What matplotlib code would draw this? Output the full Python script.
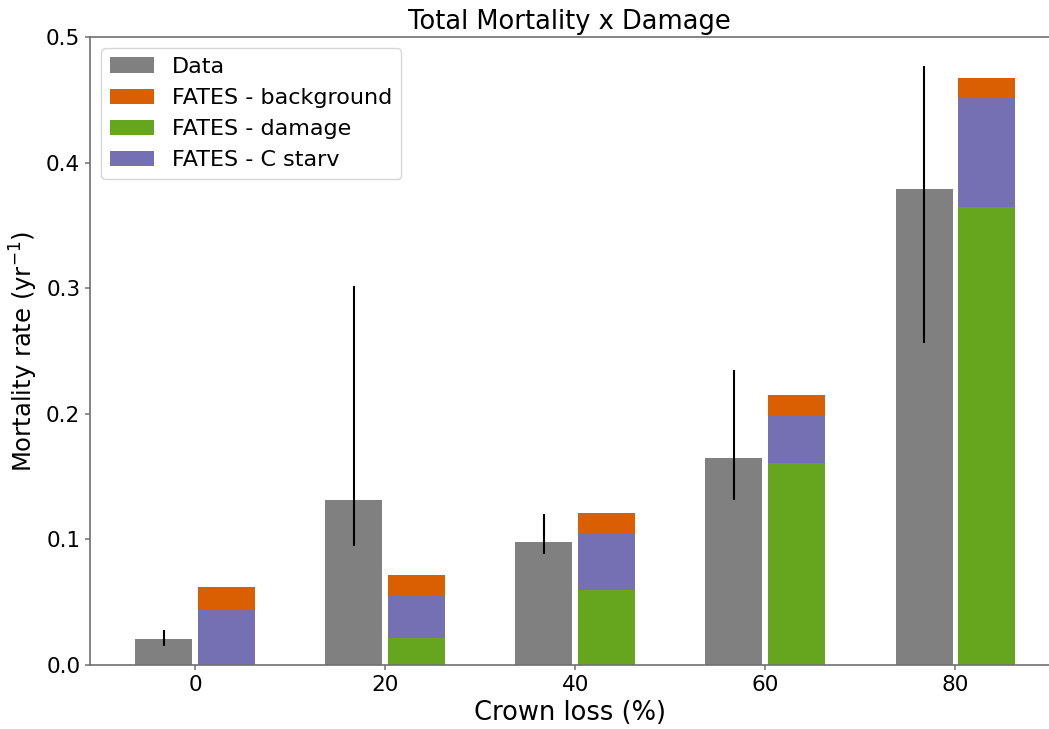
import numpy as np
import matplotlib.pyplot as plt

crown_loss = [0, 20, 40, 60, 80]
data_mort = [0.021, 0.131, 0.098, 0.165, 0.379]
data_lo = [0.015, 0.095, 0.088, 0.131, 0.256]
data_hi = [0.028, 0.302, 0.120, 0.235, 0.477]
fates_damage = [0.0, 0.0215, 0.060, 0.161, 0.365]
fates_cstarv = [0.0446, 0.0335, 0.044, 0.037, 0.087]
fates_background = [0.0174, 0.0167, 0.017, 0.017, 0.015]

x = np.array(crown_loss, dtype=float)
data_mort = np.array(data_mort)
yerr = [data_mort - np.array(data_lo), np.array(data_hi) - data_mort]
dmg = np.array(fates_damage)
cst = np.array(fates_cstarv)
bkg = np.array(fates_background)

w = 6.0
off = 3.3

fig, ax = plt.subplots(figsize=(10.49, 7.29), dpi=100)
fig.subplots_adjust(left=90/1049, right=1049.5/1049, top=1-37/729, bottom=1-665/729)

ax.bar(x - off, data_mort, w, color='#808080', label='Data')
ax.errorbar(x - off, data_mort, yerr=yerr, fmt='none', ecolor='black', elinewidth=1.5)
ax.bar(x + off, bkg, w, bottom=dmg + cst, color='#d95f02', label='FATES - background')
ax.bar(x + off, dmg, w, color='#66a61e', label='FATES - damage')
ax.bar(x + off, cst, w, bottom=dmg, color='#7570b3', label='FATES - C starv')

ax.set_xticks(x)
ax.set_xticklabels([str(c) for c in crown_loss])
ax.set_xlim(-11.05, 89.9)
ax.set_ylim(0, 0.5)
ax.tick_params(labelsize=15.5, color='#707070', width=1.1)
for s in ax.spines.values():
    s.set_color('#707070')
    s.set_linewidth(1.2)
ax.set_xlabel('Crown loss (%)', fontsize=18.5)
ax.set_ylabel('Mortality rate (yr$^{-1}$)', fontsize=17.5)
ax.set_title('Total Mortality x Damage', fontsize=18.5)
ax.legend(loc='upper left', fontsize=16)

plt.savefig('out.png')
